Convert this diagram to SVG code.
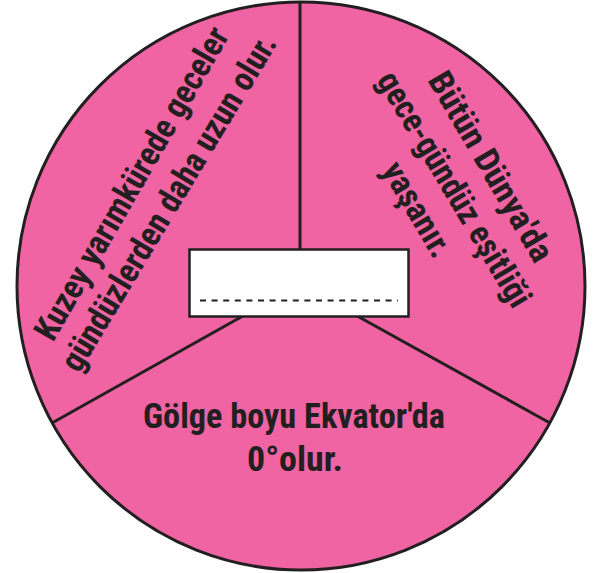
<svg xmlns="http://www.w3.org/2000/svg" width="599" height="573" viewBox="0 0 599 573">
  <style>
    .t { font-family: "Liberation Sans Narrow", "Roboto Condensed", "DejaVu Sans Condensed", "Liberation Sans", sans-serif; font-weight: bold; fill: #231F20; }
    .r { font-size: 34px; }
    .b { font-size: 35px; text-anchor: middle; }
    .ln { stroke: #231F20; stroke-width: 3; fill: none; }
  </style>
  <rect width="599" height="573" fill="#FFFFFF"/>
  <g id="disc">
    <circle cx="301" cy="286" r="284" fill="#F064A4" stroke="#231F20" stroke-width="3"/>
  </g>
  <g id="connectors">
    <line class="ln" x1="300" y1="3" x2="300" y2="252"/>
    <line class="ln" x1="250" y1="312" x2="52" y2="423"/>
    <line class="ln" x1="350" y1="312" x2="550" y2="423"/>
  </g>
  <g id="center-box">
    <rect x="189.5" y="249.5" width="219" height="67" fill="#FFFFFF" stroke="#231F20" stroke-width="2.5"/>
    <line x1="200" y1="300.5" x2="398" y2="300.5" stroke="#231F20" stroke-width="2" stroke-dasharray="6,5.6"/>
  </g>
  <g id="text-left">
    <text class="t r" transform="translate(53,343) rotate(-60.1)" x="0" y="0" textLength="355" lengthAdjust="spacingAndGlyphs">Kuzey yarımkürede geceler</text>
    <text class="t r" transform="translate(79,374) rotate(-59)" x="0" y="0" textLength="386" lengthAdjust="spacingAndGlyphs">gündüzlerden daha uzun olur.</text>
  </g>
  <g id="text-right">
    <text class="t r" transform="translate(427,80) rotate(59.7)" x="0" y="0" textLength="214" lengthAdjust="spacingAndGlyphs">Bütün Dünya'da</text>
    <text class="t r" transform="translate(376,80) rotate(59.2)" x="0" y="0" textLength="268" lengthAdjust="spacingAndGlyphs">gece-gündüz eşitliği</text>
    <text class="t r" transform="translate(381,170) rotate(59.5)" x="0" y="0" textLength="105" lengthAdjust="spacingAndGlyphs">yaşanır.</text>
  </g>
  <g id="text-bottom">
    <text class="t b" x="294" y="428" textLength="302" lengthAdjust="spacingAndGlyphs">Gölge boyu Ekvator'da</text>
    <text class="t b" x="295" y="471" textLength="96" lengthAdjust="spacingAndGlyphs">0°olur.</text>
  </g>
</svg>
